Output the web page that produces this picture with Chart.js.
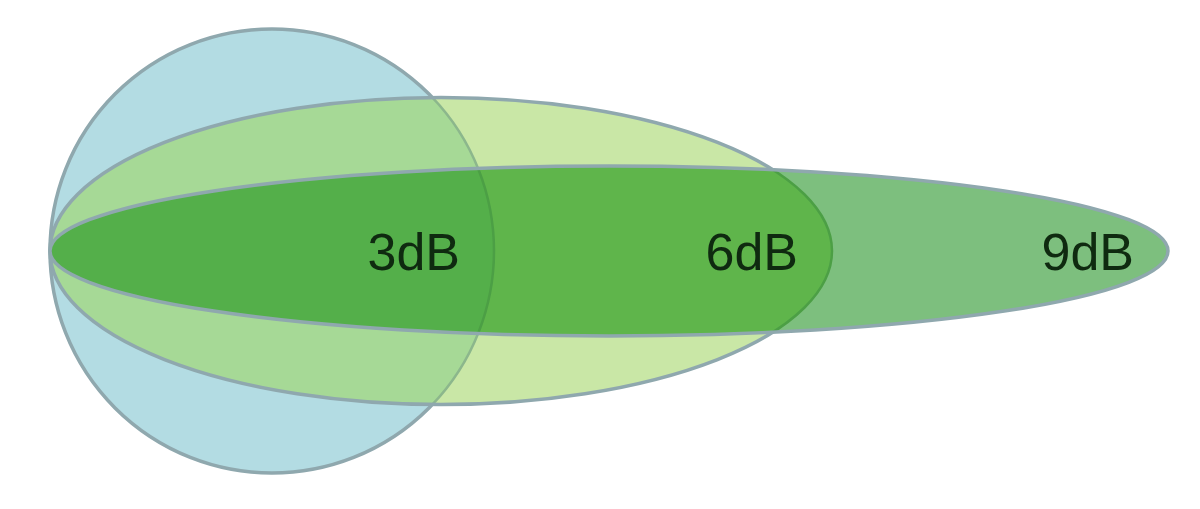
<!DOCTYPE html>
<html><head><meta charset="utf-8">
<script src="https://cdn.jsdelivr.net/npm/chart.js@4.4.1/dist/chart.umd.min.js"></script>
<style>html,body{margin:0;padding:0;background:#fff;}#wrap{width:1200px;height:509px;position:relative;}</style>
</head><body><div id="wrap"><canvas id="c"></canvas></div>
<script>
// Beam patterns (relative range units, boresight along x, origin at the antenna)
const beamLabels = ['3dB', '6dB', '9dB'];
const beamReach  = [444, 782, 1118];   // forward reach of each lobe
const beamWidth  = [444, 307, 170];    // full lobe width

const C = {
  circle: '#b3dce3', g6: '#c9e7a6', g6c: '#a6d996',
  g9: '#7dbf7e', g96: '#5fb54b', g96c: '#54af4a',
  outline: '#8fa8ae', inner6: '#8cb78c', inner9: '#4c9f45', text: '#0f2a10'
};

const lobePlugin = {
  id: 'lobes',
  beforeDatasetsDraw(chart) {
    const {ctx, scales: {x, y}} = chart;
    const yc = y.getPixelForValue(0);
    function path(i) {
      const x0 = x.getPixelForValue(0), x1 = x.getPixelForValue(beamReach[i]);
      const ry = Math.abs(y.getPixelForValue(beamWidth[i] / 2) - yc);
      ctx.beginPath();
      ctx.ellipse((x0 + x1) / 2, yc, (x1 - x0) / 2, ry, 0, 0, Math.PI * 2);
    }
    function fill(i, col) { path(i); ctx.fillStyle = col; ctx.fill(); }
    function stroke(i, col, w) { path(i); ctx.strokeStyle = col; ctx.lineWidth = w; ctx.stroke(); }
    function clip(i) { path(i); ctx.clip(); }
    ctx.save();
    // 3dB
    fill(0, C.circle);
    stroke(0, C.outline, 3.5);
    // 6dB
    fill(1, C.g6);
    ctx.save(); clip(0); fill(1, C.g6c); ctx.restore();
    ctx.save(); clip(1); stroke(0, C.inner6, 2.5); ctx.restore();
    stroke(1, C.outline, 3.5);
    // 9dB
    fill(2, C.g9);
    ctx.save(); clip(1); fill(2, C.g96); ctx.restore();
    ctx.save(); clip(1); clip(0); fill(2, C.g96c); ctx.restore();
    ctx.save(); clip(2); stroke(0, C.inner9, 2.5); stroke(1, C.inner9, 2.5); ctx.restore();
    stroke(2, C.outline, 3.5);
    // labels
    ctx.fillStyle = C.text;
    ctx.font = '52px "Liberation Sans", Arial, sans-serif';
    ctx.textAlign = 'right';
    ctx.textBaseline = 'alphabetic';
    beamLabels.forEach((t, i) => {
      ctx.fillText(t, x.getPixelForValue(beamReach[i]) - 34, yc + 19);
    });
    ctx.restore();
  }
};

new Chart(document.getElementById('c'), {
  type: 'scatter',
  data: {
    datasets: beamLabels.map((l, i) => ({
      label: l,
      data: [{x: 0, y: 0}, {x: beamReach[i], y: 0}],
      pointRadius: 0, showLine: false
    }))
  },
  options: {
    responsive: true, maintainAspectRatio: false, animation: false,
    layout: {padding: 0},
    plugins: {legend: {display: false}, tooltip: {enabled: false}},
    scales: {
      x: {type: 'linear', min: -50, max: 1150, display: false},
      y: {type: 'linear', min: -258, max: 251, display: false}
    }
  },
  plugins: [lobePlugin]
});
</script></body></html>
